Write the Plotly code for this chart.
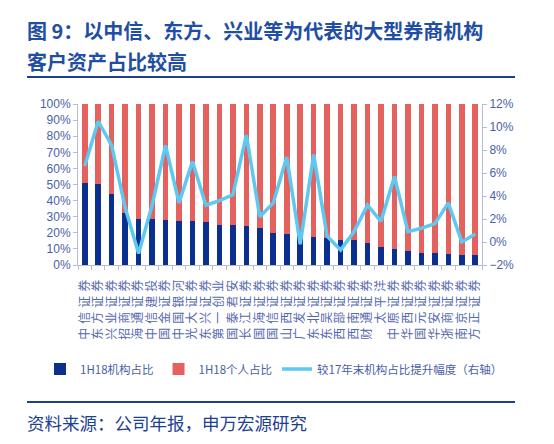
import plotly.graph_objects as go

# 券商名称
brokers = ['中信证券', '东方证券', '兴业证券', '招商证券', '海通证券', '中信建投',
           '国金证券', '中国银河', '光大证券', '东兴证券', '第一创业', '国泰君安',
           '长江证券', '国海证券', '国信证券', '山西证券', '广发证券', '东北证券',
           '东吴证券', '西部证券', '西南证券', '财通证券', '太平洋', '中原证券',
           '华西证券', '国元证券', '华安证券', '浙商证券', '南京证券', '方正证券']

# 1H18机构占比 (%)
inst_share = [50.8, 50.2, 44.2, 32.2, 28.6, 28.4, 28.0, 27.6, 27.4, 26.5,
              25.0, 24.9, 24.3, 23.2, 19.7, 19.1, 18.2, 17.6, 16.6, 15.6,
              15.6, 13.9, 11.4, 9.8, 8.9, 7.7, 7.7, 7.0, 6.0, 6.0]

# 1H18个人占比 (%)
indiv_share = [49.2, 49.8, 55.8, 67.8, 71.4, 71.6, 72.0, 72.4, 72.6, 73.5,
               75.0, 75.1, 75.7, 76.8, 80.3, 80.9, 81.8, 82.4, 83.4, 84.4,
               84.4, 86.1, 88.6, 90.2, 91.1, 92.3, 92.3, 93.0, 94.0, 94.0]

# 较17年末机构占比提升幅度 (%, 右轴)
inst_change = [6.6, 10.5, 8.4, 3.0, -1.0, 3.2, 8.4, 3.4, 7.0, 3.2,
               3.6, 4.1, 9.3, 2.2, 3.4, 7.4, -0.2, 7.6, 0.5, -0.7,
               0.9, 3.2, 1.8, 5.7, 0.9, 1.2, 1.6, 3.4, 0.0, 0.7]

tick_color = '#4a5fa6'
dark_blue = '#1c3f94'
font_cn = 'Noto Sans CJK SC'

# 横轴标签竖排(旋转90度)，字间稍加空隙
tick_labels = ['\u2004'.join(name) for name in brokers]

fig = go.Figure()

fig.add_trace(go.Bar(
    x=brokers, y=inst_share, name='1H18机构占比',
    marker=dict(color='#0a2f8f', line=dict(width=0)),
))
fig.add_trace(go.Bar(
    x=brokers, y=indiv_share, name='1H18个人占比',
    marker=dict(color='#e4615d', line=dict(width=0)),
))
fig.add_trace(go.Scatter(
    x=brokers, y=inst_change, name='较17年末机构占比提升幅度（右轴）',
    mode='lines', line=dict(color='#5ec8f0', width=3.5), yaxis='y2',
))

# 页面有 8px 的边距，图本身往左上挪 8px
OFF = 8
W, H = 554 - OFF, 444 - OFF
L, R, T, B = 78 - OFF, 482 - OFF, 104 - OFF, 265 - OFF

# 页面坐标 -> paper 坐标
def px(x):
    return (x - OFF - L) / (R - L)
def py(y):
    return (B - (y - OFF)) / (B - T)

fig.update_layout(
    width=W, height=H,
    margin=dict(l=L, r=W - R, t=T, b=H - B),
    barmode='stack', bargap=0.58,
    plot_bgcolor='white', paper_bgcolor='white',
    font=dict(family=font_cn, color=tick_color, size=12),
    xaxis=dict(
        tickmode='array', tickvals=brokers, ticktext=tick_labels,
        tickangle=-90, ticklabelstandoff=9,
        tickfont=dict(family='Liberation Sans, ' + font_cn, size=12, color='#5468ad'),
        showline=True, linecolor='#b3bcdc', linewidth=1,
        ticks='outside', tickson='boundaries', ticklen=4, tickcolor='#b3bcdc',
        showgrid=False,
    ),
    yaxis=dict(
        range=[0, 100], dtick=10, ticksuffix='%',
        tickfont=dict(family='Liberation Sans', size=12, color=tick_color),
        showline=True, linecolor='#b3bcdc', linewidth=1,
        ticks='outside', ticklen=4, tickcolor='#b3bcdc',
        showgrid=False, zeroline=False,
    ),
    yaxis2=dict(
        range=[-2, 12], dtick=2, ticksuffix='%', overlaying='y', side='right',
        tickfont=dict(family='Liberation Sans', size=12, color=tick_color),
        showline=True, linecolor='#b3bcdc', linewidth=1,
        ticks='outside', ticklen=4, tickcolor='#b3bcdc',
        showgrid=False, zeroline=False,
    ),
    legend=dict(
        orientation='h', x=px(40), xanchor='left', y=py(369), yanchor='middle',
        font=dict(family=font_cn, size=11.5, color=tick_color),
        traceorder='normal', bgcolor='rgba(0,0,0,0)',
    ),
    showlegend=True,
)

# 标题
fig.add_annotation(
    text='<b>图 9：以中信、东方、兴业等为代表的大型券商机构</b>',
    xref='paper', yref='paper', x=px(25), y=py(30),
    xanchor='left', yanchor='middle', showarrow=False,
    font=dict(family=font_cn, size=20, color='#1f4ea3'),
)
fig.add_annotation(
    text='<b>客户资产占比较高</b>',
    xref='paper', yref='paper', x=px(25), y=py(62),
    xanchor='left', yanchor='middle', showarrow=False,
    font=dict(family=font_cn, size=20, color='#1f4ea3'),
)
# 来源
fig.add_annotation(
    text='资料来源：公司年报，申万宏源研究',
    xref='paper', yref='paper', x=px(25), y=py(422),
    xanchor='left', yanchor='middle', showarrow=False,
    font=dict(family=font_cn, size=17.5, color=dark_blue),
)

# 分隔线
for yy in (77, 402):
    fig.add_shape(
        type='line', xref='paper', yref='paper',
        x0=px(27), x1=px(515), y0=py(yy), y1=py(yy),
        line=dict(color=dark_blue, width=2),
    )

fig.write_html('out.html')
